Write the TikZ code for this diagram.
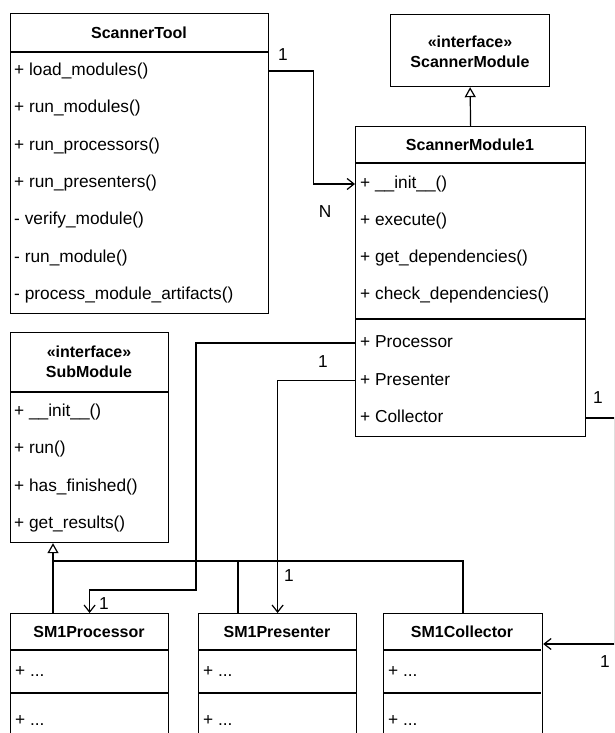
\documentclass[tikz,border=0pt]{standalone}
\usepackage{fontspec}
\setmainfont{Liberation Sans}
\usetikzlibrary{arrows.meta,positioning}

\tikzset{
  classbox/.style={draw, line width=1.2pt, anchor=north west, inner sep=0pt},
  classtitle/.style={font=\fontsize{16}{20}\selectfont\bfseries, align=center, inner sep=0pt},
  member/.style={font=\fontsize{17.3}{20}\selectfont, anchor=west, inner sep=0pt, text height=12.5pt, text depth=3.5pt},
  mult/.style={font=\fontsize{17.3}{20}\selectfont, inner sep=0pt},
  link/.style={line width=1.2pt},
  assoc/.style={link, -{Straight Barb[length=7pt,width=11pt]}},
  realize/.style={link, -{Triangle[open,length=10pt,width=11pt]}},
}

\begin{document}
\begin{tikzpicture}[x=1pt,y=-1pt]
\useasboundingbox (0,0) rectangle (614,733);
\clip (0,0) rectangle (614,733);

% ScannerTool
\node[classbox, minimum width=258pt, minimum height=300pt] (tool) at (10,13) {};
\draw[link] (10,52) -- (268,52);
\node[classtitle] (toolT) at (139,32.5) {ScannerTool};
\foreach \txt [count=\i] in {+ load\_modules(), + run\_modules(), + run\_processors(),
    + run\_presenters(), - verify\_module(), - run\_module(), - process\_module\_artifacts()}
  \node[member] (tool\i) at (14,{71+(\i-1)*37.3}) {\txt};

% interface ScannerModule
\node[classbox, minimum width=159pt, minimum height=72pt] (iface) at (390,14) {};
\node[classtitle] (ifaceT) at (470,52) {«interface»\\ScannerModule};

% ScannerModule1
\node[classbox, minimum width=230pt, minimum height=310pt] (mod1) at (355,126) {};
\draw[link] (355,163) -- (585,163);
\draw[link] (355,319) -- (585,319);
\node[classtitle] (mod1T) at (470,144.5) {ScannerModule1};
\foreach \txt [count=\i] in {+ \_\_init\_\_(), + execute(), + get\_dependencies(), + check\_dependencies()}
  \node[member] (mod1m\i) at (360,{184+(\i-1)*37}) {\txt};
\foreach \txt [count=\i] in {+ Processor, + Presenter, + Collector}
  \node[member] (mod1p\i) at (360,{343+(\i-1)*37.5}) {\txt};

% interface SubModule
\node[classbox, minimum width=158pt, minimum height=210pt] (sub) at (10,332) {};
\draw[link] (10,392) -- (168,392);
\node[classtitle] (subT) at (89,362) {«interface»\\SubModule};
\foreach \txt [count=\i] in {+ \_\_init\_\_(), + run(), + has\_finished(), + get\_results()}
  \node[member] (sub\i) at (14,{412+(\i-1)*37.3}) {\txt};

% SM1 classes (cut off at the bottom)
\node[classbox, minimum width=158pt, minimum height=130pt] (proc) at (10,613) {};
\node[classbox, minimum width=158pt, minimum height=130pt] (pres) at (198,613) {};
\node[classbox, minimum width=159pt, minimum height=130pt] (coll) at (383,613) {};
\foreach \cls/\nm/\lx in {proc/SM1Processor/10, pres/SM1Presenter/198, coll/SM1Collector/383} {
  \draw[link] (\lx,650) -- ++(158,0);
  \draw[link] (\lx,693) -- ++(158,0);
  \node[classtitle] (\cls T) at (\lx+79,631.5) {\nm};
  \node[member] (\cls 1) at (\lx+5,672) {+ ...};
  \node[member] (\cls 2) at (\lx+5,721) {+ ...};
}

% associations
\draw[assoc] (tool.east |- tool1) -- ++(44,0) |- (mod1.west |- mod1m1);
\draw[assoc] (mod1.west |- mod1p1) -| (196,590) -| (proc.north);
\draw[assoc] (mod1.west |- mod1p2) -| (pres.north);
\coordinate (collIn) at ([yshift=-31pt]coll.north east);
\draw[assoc] (mod1.east |- mod1p3) -| ([xshift=71pt]collIn) -- (collIn);

% realizations
\draw[realize] (mod1.north) -- (iface.south);
\coordinate (inh) at (53,561);
\draw[realize] ([xshift=43pt]proc.north west) -- ([xshift=43pt]sub.south west);
\draw[link] ([xshift=40pt]pres.north west) |- (inh);
\draw[link] ([xshift=80pt]coll.north west) |- (inh);

% multiplicities
\node[mult] (m1) at (283,55) {1};
\node[mult] (mN) at (325,212) {N};
\node[mult] (m2) at (104,604) {1};
\node[mult] (m3) at (323,362) {1};
\node[mult] (m4) at (289,576) {1};
\node[mult] (m5) at (598,398) {1};
\node[mult] (m6) at (605,662) {1};
\end{tikzpicture}
\end{document}
